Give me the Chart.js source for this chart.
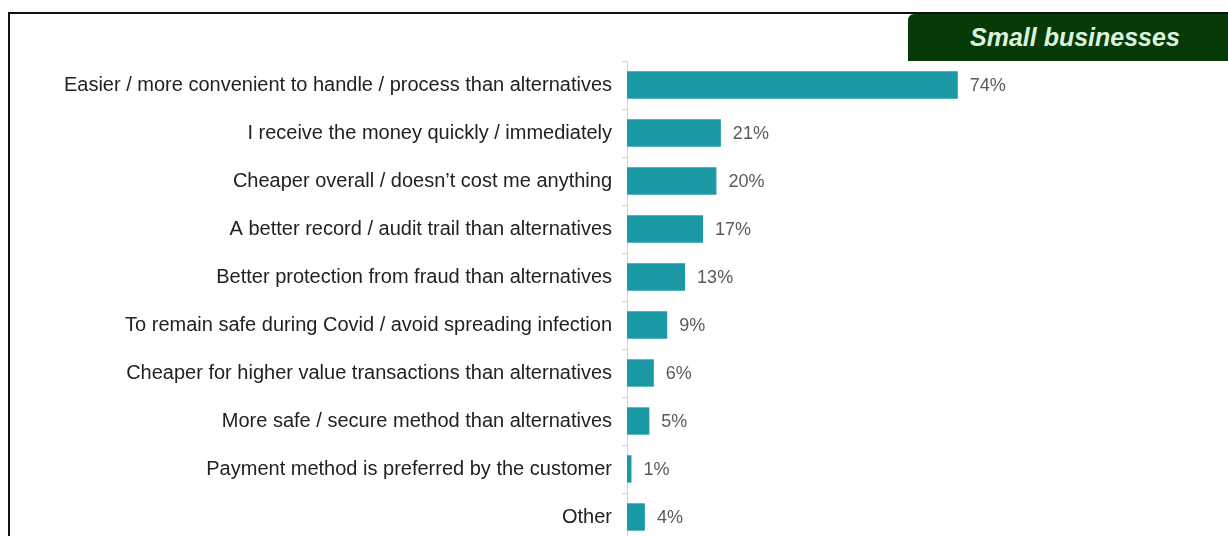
<!DOCTYPE html>
<html>
<head>
<meta charset="utf-8">
<script src="https://cdn.jsdelivr.net/npm/chart.js@4/dist/chart.umd.min.js"></script>
<style>
  html, body { margin: 0; padding: 0; background: #fff; overflow: hidden; }
  #wrap { position: relative; width: 1228px; height: 536px; overflow: hidden; }
  #frame { position: absolute; left: 8px; top: 12px; width: 1240px; height: 560px; border: 2px solid #111; }
  #badge {
    position: absolute; left: 908px; top: 14px; width: 330px; height: 47px;
    background: #063a06; border-top-left-radius: 6px;
    color: #dcf2dc; font: italic bold 25px "Liberation Sans", Arial, sans-serif;
    line-height: 47px; padding-left: 62px; box-sizing: border-box;
  }
  #chartBox { position: absolute; left: 0; top: 0; width: 1228px; height: 580px; }
</style>
</head>
<body>
<div id="wrap">
  <div id="frame"></div>
  <div id="badge">Small businesses</div>
  <div id="chartBox"><canvas id="c"></canvas></div>
</div>
<script>
const categories = [
  'Easier / more convenient to handle / process than alternatives',
  'I receive the money quickly / immediately',
  'Cheaper overall / doesn\u2019t cost me anything',
  'A better record / audit trail than alternatives',
  'Better protection from fraud than alternatives',
  'To remain safe during Covid / avoid spreading infection',
  'Cheaper for higher value transactions than alternatives',
  'More safe / secure method than alternatives',
  'Payment method is preferred by the customer',
  'Other'
];
const values = [74, 21, 20, 17, 13, 9, 6, 5, 1, 4];
const barColor = '#1b9aa6';

// draws "xx%" just past the end of each bar
const valueLabels = {
  id: 'valueLabels',
  afterDatasetsDraw(chart) {
    const ctx = chart.ctx;
    const meta = chart.getDatasetMeta(0);
    ctx.save();
    ctx.font = '18px "Liberation Sans", Arial, sans-serif';
    ctx.fillStyle = '#5a5a5a';
    ctx.textBaseline = 'middle';
    meta.data.forEach((bar, i) => {
      ctx.fillText(values[i] + '%', bar.x + 12, bar.y + 1);
    });
    ctx.restore();
  }
};

new Chart(document.getElementById('c'), {
  type: 'bar',
  data: {
    labels: categories,
    datasets: [{
      data: values,
      backgroundColor: barColor,
      borderWidth: 0,
      categoryPercentage: 1,
      barPercentage: 0.57,
    }],
  },
  options: {
    indexAxis: 'y',
    responsive: true,
    maintainAspectRatio: false,
    animation: false,
    layout: { padding: { top: 61, bottom: 39, left: 0, right: 154 } },
    plugins: { legend: { display: false }, tooltip: { enabled: false } },
    scales: {
      x: {
        min: 0, max: 100,
        display: false,
      },
      y: {
        afterFit(scale) { scale.width = 627; },
        border: { display: true, color: '#d4d4d4', width: 1 },
        grid: { drawOnChartArea: false, tickLength: 5, color: '#d4d4d4', offset: true },
        ticks: {
          color: '#222',
          padding: 10,
          font: { family: '"Liberation Sans", Arial, sans-serif', size: 20 },
        },
      },
    },
  },
  plugins: [valueLabels],
});
</script>
</body>
</html>
